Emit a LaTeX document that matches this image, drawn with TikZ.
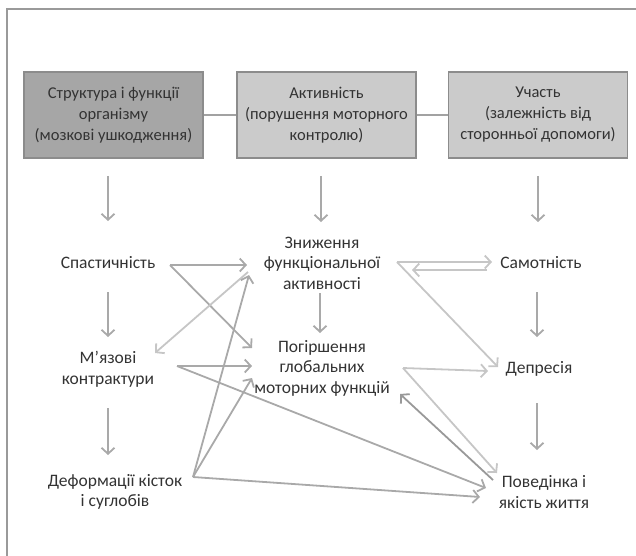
\documentclass[tikz,border=0pt]{standalone}
\usepackage{fontspec}
\setmainfont{Carlito}
\usetikzlibrary{arrows.meta,calc}
\definecolor{txt}{HTML}{333333}
\definecolor{frm}{HTML}{9A9A9A}
\definecolor{bdark}{HTML}{A6A6A6}
\definecolor{blight}{HTML}{CBCBCB}
\definecolor{bbord}{HTML}{8C8C8C}
\definecolor{amid}{HTML}{A9A9A9}
\definecolor{alight}{HTML}{C6C6C6}
\definecolor{adark}{HTML}{999999}
\tikzset{
  box/.style={draw=bbord,line width=1.6pt,minimum width=179pt,minimum height=86pt,align=center,text=txt,font=\fontsize{16.5pt}{21pt}\selectfont,inner sep=0pt},
  lbl/.style={align=center,text=txt,font=\fontsize{17.5pt}{20.5pt}\selectfont,inner sep=0pt},
  arr/.style={draw=amid,line width=1.8pt,-{Straight Barb[length=6pt,width=13pt]}},
  arrl/.style={arr,draw=alight},
  arrd/.style={arr,draw=adark},
  link/.style={draw=blight!80!black,line width=1.6pt}
}
\begin{document}
\begin{tikzpicture}[x=1pt,y=-1pt]
\useasboundingbox (0,0) rectangle (636,555);
\draw[frm,line width=1.5pt] (7,556) -- (7,9) -- (637,9);
% boxes
\node[box,fill=bdark] (b1) at (113.5,115) {Структура і функції\\організму\\(мозкові ушкодження)};
\node[box,fill=blight] (b2) at (326.5,115) {Активність\\(порушення моторного\\контролю)};
\node[box,fill=blight] (b3) at (538,115) {Участь\\(залежність від\\сторонньої допомоги)};
\draw[link] (b1.east) -- (b2.west);
\draw[link] (b2.east) -- (b3.west);
% labels
\node[lbl] (sp) at (108,263) {Спастичність};
\node[lbl] (zn) at (322,263) {Зниження\\функціональної\\активності};
\node[lbl] (sa) at (541,263) {Самотність};
\node[lbl] (mz) at (108,369) {М’язові\\контрактури};
\node[lbl] (pg) at (322,368) {Погіршення\\глобальних\\моторних функцій};
\node[lbl] (de) at (539,369) {Депресія};
\node[lbl] (df) at (115,492) {Деформації кісток\\і суглобів};
\node[lbl] (pv) at (544,492) {Поведінка і\\якість життя};
% vertical arrows
\draw[arr] ($(b1.south)+(-5.5,17)$) -- ($(sp)+(0,-42)$);
\draw[arr] ($(sp)+(0,29)$) -- ($(mz)+(0,-32)$);
\draw[arr] ($(mz)+(0,39)$) -- ($(df)+(-7,-37)$);
\draw[arr] ($(b2.south)+(-5.5,17)$) -- ($(zn)+(-1,-41)$);
\draw[arr] ($(zn)+(-2,30)$) -- ($(pg)+(-2,-35)$);
\draw[arr] ($(b3.south)+(0,17)$) -- ($(sa)+(-3,-41)$);
\draw[arr] ($(sa)+(-4,29)$) -- ($(de)+(-2,-32)$);
\draw[arr] ($(de)+(-2,34)$) -- ($(pv)+(-7,-42)$);
% cross arrows
\draw[arr] ($(sp)+(62,2)$) -- ($(zn)+(-75,2)$);
\draw[arr] ($(sp)+(62,2)$) -- ($(pg)+(-70,-20)$);
\draw[arrl] ($(zn)+(-74,9)$) -- ($(mz)+(47,-16)$);
\draw[arr] ($(mz)+(69,-3)$) -- ($(pg)+(-70,-2)$);
\draw[arr] ($(mz)+(69,-3)$) -- ($(pv)+(-58,-4)$);
\draw[arr] ($(df)+(78,-15)$) -- ($(zn)+(-73,12)$);
\draw[arr] ($(df)+(78,-15)$) -- ($(pg)+(-70,10)$);
\draw[arr] ($(df)+(78,-15)$) -- ($(pv)+(-64,5)$);
\draw[arrl] ($(zn)+(75,-1)$) -- ($(sa)+(-49,-1)$);
\draw[arrl] ($(sa)+(-54,7)$) -- ($(zn)+(90,7)$);
\draw[arrl] ($(zn)+(75,-1)$) -- ($(de)+(-41,-2)$);
\draw[arrl] ($(pg)+(81,0)$) -- ($(de)+(-51,2)$);
\draw[arrl] ($(pg)+(81,0)$) -- ($(pv)+(-47,-19)$);
\draw[arrd] ($(pv)+(-51,-12)$) -- ($(pg)+(78,26)$);
\end{tikzpicture}
\end{document}
